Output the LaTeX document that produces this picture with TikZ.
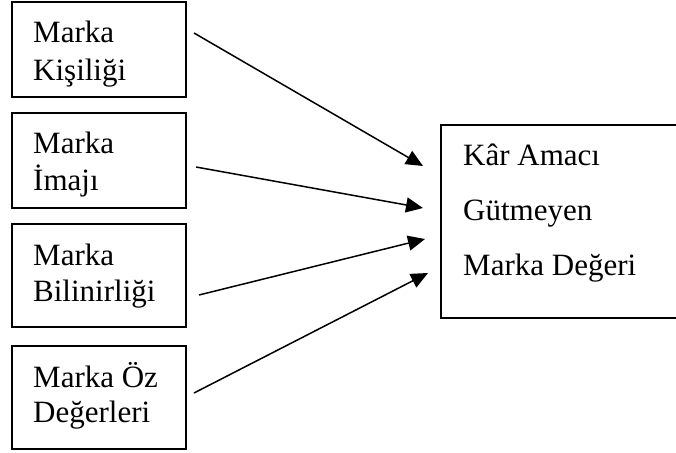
\documentclass[tikz,border=0pt]{standalone}
\usepackage{fontspec}
\setmainfont{Liberation Serif}
\usetikzlibrary{arrows.meta}
\begin{document}
\begin{tikzpicture}[x=1pt,y=-1pt,
  box/.style={draw=black,line width=1.8pt,minimum width=174pt,inner sep=0pt},
  rbox/.style={draw=black,line width=1.8pt,minimum width=238pt,minimum height=193pt,inner sep=0pt},
  txt/.style={anchor=base west,inner sep=0pt,font=\fontsize{31}{37}\selectfont},
  conn/.style={line width=1.5pt,-{Triangle[length=17pt,width=15pt]}}]
\useasboundingbox (0,0) rectangle (676,452);
\node[box,minimum height=95pt] (b1) at (99,49.5) {};
\node[box,minimum height=95pt] (b2) at (99,160.5) {};
\node[box,minimum height=103pt] (b3) at (99,275.5) {};
\node[box,minimum height=103pt] (b4) at (99,397.5) {};
\node[rbox] (r) at (560,221.5) {};
\node[txt] (t1a) at (33,43) {Marka};
\node[txt] (t1b) at (33,80) {Kişiliği};
\node[txt] (t2a) at (33,153) {Marka};
\node[txt] (t2b) at (33,190) {İmajı};
\node[txt] (t3a) at (33,265) {Marka};
\node[txt] (t3b) at (33,301) {Bilinirliği};
\node[txt] (t4a) at (33,387) {Marka Öz};
\node[txt] (t4b) at (33,422) {Değerleri};
\node[txt] (ra) at (463,165) {Kâr Amacı};
\node[txt] (rb) at (463,220) {Gütmeyen};
\node[txt] (rc) at (463,275) {Marka Değeri};
\coordinate (s1) at (194,33);
\coordinate (s2) at (196,167);
\coordinate (s3) at (199,295);
\coordinate (s4) at (194,393);
\coordinate (e1) at (423,166);
\coordinate (e2) at (423,208);
\coordinate (e3) at (425,239);
\coordinate (e4) at (428,273);
\draw[conn] (s1) -- (e1);
\draw[conn] (s2) -- (e2);
\draw[conn] (s3) -- (e3);
\draw[conn] (s4) -- (e4);
\end{tikzpicture}
\end{document}
